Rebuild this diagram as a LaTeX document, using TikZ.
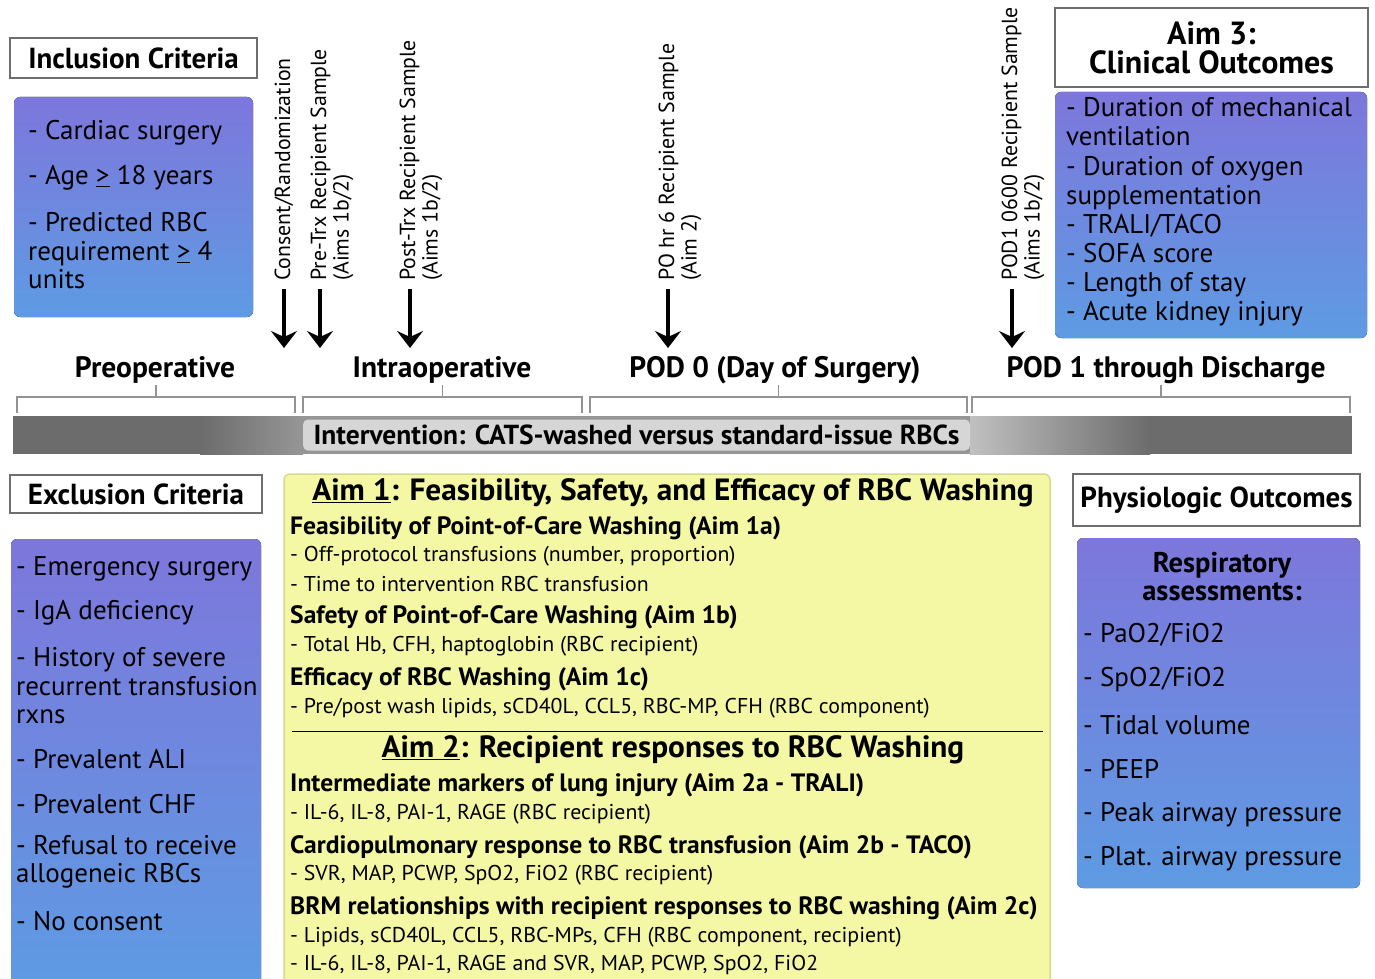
\documentclass[tikz,border=0pt]{standalone}
\usepackage{fontspec}
\setmainfont{PT Sans}
\newfontfamily\condfont[FakeStretch=1.02]{PT Sans}
\usetikzlibrary{arrows.meta}
\definecolor{purp}{RGB}{125,119,219}
\definecolor{blu}{RGB}{94,155,227}
\definecolor{aimyellow}{RGB}{244,247,164}
\definecolor{aimedge}{RGB}{214,218,140}
\definecolor{bardark}{RGB}{108,108,108}
\definecolor{barmid}{RGB}{150,150,150}
\definecolor{barlight}{RGB}{192,192,192}
\definecolor{tagfill}{RGB}{214,214,214}
\definecolor{edgegray}{RGB}{110,110,110}

\begin{document}
\begin{tikzpicture}[x=1pt,y=-1pt,
    headbox/.style={draw=edgegray,line width=1.2pt,fill=white,inner sep=0,
      font=\bfseries\fontsize{29}{31}\selectfont,align=center},
    gradbox/.style={rounded corners=6pt,top color=purp,bottom color=blu},
    itemtxt/.style={anchor=west,align=left,inner sep=0,font=\fontsize{27}{28.5}\selectfont},
    timetxt/.style={rotate=90,anchor=west,align=left,inner sep=0,font=\fontsize{21.8}{22.5}\selectfont},
    tlarrow/.style={line width=4.5pt,-{Stealth[length=17pt,width=26pt,inset=6pt]}},
    phase/.style={font=\bfseries\fontsize{29.5}{31}\selectfont,inner sep=0},
    bracket/.style={draw=gray!85,line width=1.5pt},
    aimtitle/.style={font=\condfont\bfseries\fontsize{30.7}{34}\selectfont,inner sep=0},
    subhead/.style={anchor=west,inner sep=0,font=\condfont\bfseries\fontsize{25.1}{28}\selectfont},
    aimitem/.style={anchor=west,inner sep=0,font=\condfont\fontsize{21.4}{24}\selectfont}]
    \useasboundingbox[fill=white] (0,0) rectangle (1375,979);

    % inclusion criteria
    \node[headbox,minimum width=247,minimum height=40] (inchead) at (133.5,58) {Inclusion Criteria};
    \fill[gradbox] (14,97) rectangle (253,317);
    \foreach \y/\txt [count=\i] in {
        133/- Cardiac surgery,
        178/- Age \underline{>} 18 years,
        251/{- Predicted RBC\\requirement \underline{>} 4\\units}}
            \node[itemtxt] (inc\i) at (28,\y) {\txt};

    % time points
    \foreach \x/\txt/\nm in {
        284/{Consent/Randomization}/cons,
        332/{Pre-Trx Recipient Sample\\(Aims 1b/2)}/pretrx,
        421/{Post-Trx Recipient Sample\\(Aims 1b/2)}/posttrx,
        680/{PO hr 6 Recipient Sample\\(Aim 2)}/pohr,
        1023/{POD1 0600 Recipient Sample\\(Aims 1b/2)}/podsample}
            \node[timetxt] (\nm) at (\x,281) {\txt};
    \foreach \x/\nm in {284/cons,320/pretrx,410/posttrx,668/pohr,1012/podsample} {
        \coordinate (\nm-top) at (\x,289);
        \coordinate (\nm-tip) at (\x,348);
        \draw[tlarrow] (\nm-top) -- (\nm-tip);
    }

    % phases and brackets
    \foreach \x/\txt/\nm in {
        155/Preoperative/preop,
        442/Intraoperative/intraop,
        775/POD 0 (Day of Surgery)/podzero,
        1166/POD 1 through Discharge/podone}
            \node[phase] (\nm) at (\x,370) {\txt};
    \foreach \xa/\xb in {17/295,303/582,590/967,972/1350}
        \draw[bracket] (\xa,413) -- (\xa,397) -- (\xb,397) -- (\xb,413)
            ({(\xa+\xb)/2},397) -- ({(\xa+\xb)/2},385);

    % intervention bar
    \fill[bardark] (13,416) rectangle (1352,454);
    \shade[left color=bardark,right color=barmid] (200,416) rectangle (303,454);
    \fill[barmid] (303,416) rectangle (970,454);
    \shade[left color=barlight,right color=bardark] (970,416) rectangle (1150,454);
    \node[fill=tagfill,rounded corners=5pt,minimum width=667,minimum height=31,inner sep=0,
        font=\bfseries\fontsize{27.5}{29}\selectfont] (interv) at (636.5,435)
        {Intervention: CATS-washed versus standard-issue RBCs};

    % exclusion criteria
    \node[headbox,minimum width=252,minimum height=38] (exchead) at (136,494) {Exclusion Criteria};
    \fill[gradbox] (11,539) rectangle (261,990);
    \foreach \y/\txt [count=\i] in {
        569/- Emergency surgery,
        613/- IgA deficiency,
        686/{- History of severe\\recurrent transfusion\\rxns},
        759/- Prevalent ALI,
        804/- Prevalent CHF,
        862/{- Refusal to receive\\allogeneic RBCs},
        921/- No consent}
            \node[itemtxt] (exc\i) at (16,\y) {\txt};

    % aims 1 and 2
    \filldraw[fill=aimyellow,draw=aimedge,line width=1.5pt,rounded corners=6pt] (284,474) rectangle (1050,995);
    \node[aimtitle] (aimone) at (673,493) {\underline{Aim 1}: Feasibility, Safety, and Efficacy of RBC Washing};
    \node[aimtitle] (aimtwo) at (673,750) {\underline{Aim 2}: Recipient responses to RBC Washing};
    \draw[line width=1pt] (292,731) -- (1043,731);
    \foreach \y/\txt [count=\i] in {
        528/Feasibility of Point-of-Care Washing (Aim 1a),
        617/Safety of Point-of-Care Washing (Aim 1b),
        679/Efficacy of RBC Washing (Aim 1c),
        785/Intermediate markers of lung injury (Aim 2a - TRALI),
        847/Cardiopulmonary response to RBC transfusion (Aim 2b - TACO),
        908/BRM relationships with recipient responses to RBC washing (Aim 2c)}
            \node[subhead] (sub\i) at (290,\y) {\txt};
    \foreach \y/\txt [count=\i] in {
        556/{- Off-protocol transfusions (number, proportion)},
        584/- Time to intervention RBC transfusion,
        646/{- Total Hb, CFH, haptoglobin (RBC recipient)},
        708/{- Pre/post wash lipids, sCD40L, CCL5, RBC-MP, CFH (RBC component)},
        814/{- IL-6, IL-8, PAI-1, RAGE (RBC recipient)},
        875/{- SVR, MAP, PCWP, SpO2, FiO2 (RBC recipient)},
        937/{- Lipids, sCD40L, CCL5, RBC-MPs, CFH (RBC component, recipient)},
        965/{- IL-6, IL-8, PAI-1, RAGE and SVR, MAP, PCWP, SpO2, FiO2}}
            \node[aimitem] (item\i) at (290,\y) {\txt};

    % aim 3
    \node[headbox,minimum width=313,minimum height=79,font=\bfseries\fontsize{32}{29}\selectfont]
        (aimthree) at (1211.5,47.5) {Aim 3:\\Clinical Outcomes};
    \fill[gradbox] (1055,92) rectangle (1367,338);
    \node[itemtxt,font=\fontsize{27}{29.1}\selectfont] (clin) at (1066,212)
        {- Duration of mechanical\\ventilation\\- Duration of oxygen\\supplementation\\- TRALI/TACO\\- SOFA score\\- Length of stay\\- Acute kidney injury};

    % physiologic outcomes
    \node[headbox,minimum width=287,minimum height=52] (physhead) at (1216.5,500) {Physiologic Outcomes};
    \fill[gradbox] (1077,538) rectangle (1360,888);
    \node[align=center,inner sep=0,font=\bfseries\fontsize{28.5}{28}\selectfont] (resp) at (1222,577)
        {Respiratory\\assessments:};
    \foreach \y/\txt [count=\i] in {
        635/{- PaO2/FiO2},
        680/{- SpO2/FiO2},
        725/- Tidal volume,
        769/- PEEP,
        815/- Peak airway pressure,
        859/- Plat. airway pressure}
            \node[itemtxt] (phys\i) at (1083,\y) {\txt};
\end{tikzpicture}
\end{document}
